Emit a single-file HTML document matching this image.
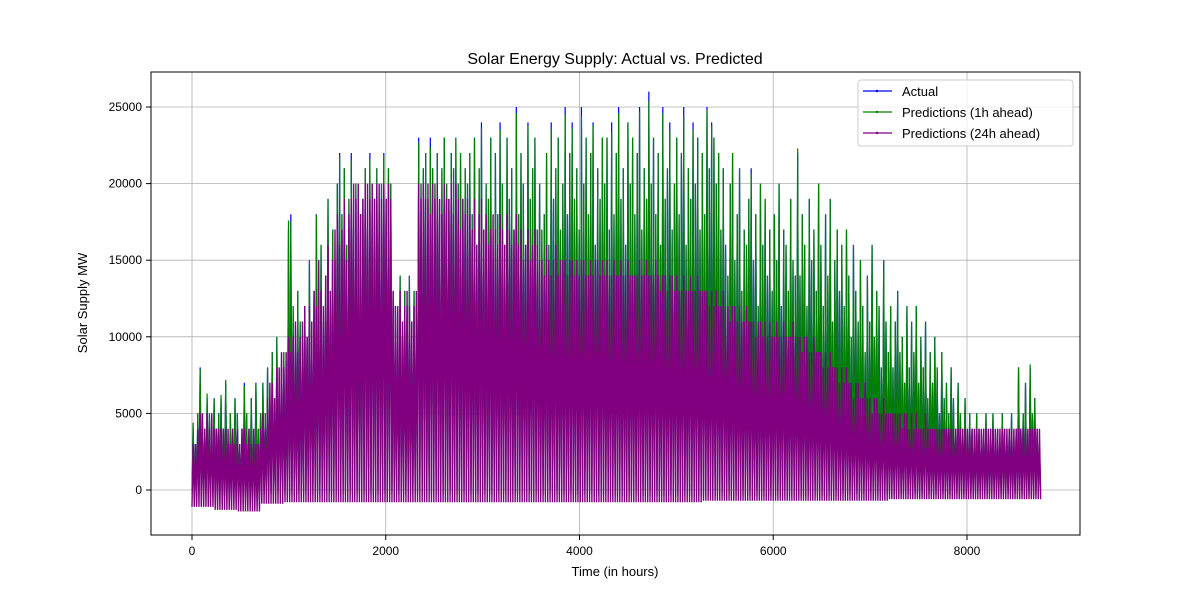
<!DOCTYPE html>
<html><head><meta charset="utf-8"><style>
body{margin:0;background:#fff;}
svg{display:block;font-family:"Liberation Sans","DejaVu Sans",sans-serif;}
</style></head><body>
<svg id="chart" width="1200" height="600" viewBox="0 0 1200 600">
<rect x="0" y="0" width="1200" height="600" fill="#fff"/>
<g id="grid"></g>
<g id="plot"></g>
<rect x="151" y="72" width="929" height="463" fill="none" stroke="#000" stroke-width="1"/>
<g id="ticks"></g>
<text x="615" y="64" text-anchor="middle" font-size="16">Solar Energy Supply: Actual vs. Predicted</text>
<text x="615" y="576" text-anchor="middle" font-size="13">Time (in hours)</text>
<text x="0" y="0" transform="translate(87,303) rotate(-90)" text-anchor="middle" font-size="13">Solar Supply MW</text>
<g>
<rect x="858" y="80" width="215" height="66" rx="3" fill="#fff" fill-opacity="0.8" stroke="#ccc"/>
<g><line x1="863" y1="91" x2="892" y2="91" stroke="blue" stroke-width="1.2"/><circle cx="877" cy="91" r="1.2" fill="blue"/><text x="902" y="96" font-size="13">Actual</text></g>
<g><line x1="863" y1="112" x2="892" y2="112" stroke="green" stroke-width="1.2"/><circle cx="877" cy="112" r="1.2" fill="green"/><text x="902" y="117" font-size="13">Predictions (1h ahead)</text></g>
<g><line x1="863" y1="133" x2="892" y2="133" stroke="purple" stroke-width="1.2"/><circle cx="877" cy="133" r="1.2" fill="purple"/><text x="902" y="138" font-size="13">Predictions (24h ahead)</text></g>
</g>
</svg>
<script>
// daily peaks in thousands of MW (one value per day)
const actualPeaks=[4,3,5,8,3,4,6,5,3,6, 4,5,6,4,7,3,5,4,6,5, 3,4,7,5,4,6,3,7,4,5, 7,5,8,6,9,4,10,7,8,9, 6,17,18,12,9,13,11,8,12,10, 15,10,13,18,12,16,11,14,19,13, 17,15,20,22,18,21,16,19,22,17, 20,15,18,19,21,17,22,20,19,21, 18,20,22,19,21,20,13,12,11,14, 10,13,12,14,11,13,12,23,20,21, 22,19,23,21,20,22,18,21,23,20, 19,22,21,23,20,22,19,21,20,22, 18,23,16,21,24,17,20,19,23,15, 22,18,24,20,16,23,19,21,17,25, 18,22,20,16,24,19,21,23,17,20, 17,18,22,16,24,19,21,23,17,20, 25,18,22,24,19,21,17,25,20,23, 18,22,24,16,21,19,23,20,23,17, 24,18,22,25,19,21,16,24,20,23, 18,22,25,17,21,19,26,20,23,18, 22,16,25,19,21,24,17,20,23,18, 22,25,16,21,19,24,20,23,17,22, 18,25,21,24,23,20,22,17,21,16, 14,20,22,15,18,21,13,17,16,19, 21,15,18,12,20,16,19,14,17,13, 18,15,20,12,17,16,13,19,15,14, 22,14,18,16,12,19,15,17,13,20, 16,12,18,14,19,11,15,17,13,16, 12,17,14,10,16,13,11,15,12,9, 14,11,16,10,13,12,8,15,11,9, 12,8,11,13,9,10,7,12,8,11, 9,12,7,10,8,11,6,9,7,10, 8,5,9,6,7,5,8,6,4,7, 5,4,6,3,5,4,3,5,4,3, 4,5,3,4,5,3,4,3,5,4, 3,4,5,3,4,8,4,5,7,3, 8,5,6,4,3];
const pred1hPeaks=[4.4,3,5,7.9,3,4,6.3,5,3,6, 4,5,6.2,4,7.2,3,5,4,6,5, 3,4,6.8,5,4,6,3,6.9,4,5, 7,5,8,6,9,4,10,7,8,9, 6,17.6,17.5,12,9,13,11,8,12,10, 15,10,13,18,12,16,11,14,19,13, 17,15,20,21.8,18,21,16,19,21.5,17, 20,15,18,19,21,17,21.6,20,19,21, 18,20,21.8,19,21,20,13,12,11,14, 10,13,12,14,11,13,12,22.7,20,21, 22,19,22.4,21,20,22,18,21,23,20, 19,22,21,23,20,22,19,21,20,22, 18,23,16,21,23.6,17,20,19,23,15, 22,18,23.5,20,16,23,19,21,17,24.6, 18,22,20,16,23.8,19,21,23,17,20, 17,18,22,16,23.6,19,21,23,17,20, 24.5,18,22,23.6,19,21,17,24.4,20,23, 18,22,23.8,16,21,19,23,20,23,17, 23.4,18,22,24.6,19,21,16,24,20,23, 18,22,24.7,17,21,19,25.4,20,23,18, 22,16,24.6,19,21,23.5,17,20,23,18, 22,24.4,16,21,19,23.5,20,23,17,22, 18,24.8,21,23.8,23,20,22,17,21,16, 14,20,22,15,18,21,13,17,16,19, 20.6,15,18,12,20,16,19,14,17,13, 18,15,20,12,17,16,13,19,15,14, 22.3,14,18,16,12,19,15,17,13,20, 16,12,18,14,19,11,15,17,13,16, 12,17,14,10,16,13,11,15,12,9, 14,11,16,10,13,12,8,15,11,9, 12,8,11,13,9,10,7,12,8,11, 9,12,7,10,8,11,6,9,7,10, 8,5,9,6,7,5,8,6,4,7, 5,4,6,3,5,4,3,5,4,3, 4,5,3,4,5,3,4,3,5,4, 3,4,5,3,4,8,4,5,7,3, 8.2,5,6,4,3];
const pred24hPeaks=[3,3,4,5,5,4,5,4,5,4, 4,4,4,4,4,4,3,4,3,4, 3,4,4,3,4,3,4,3,3,4, 5,4,6,7,7,6,8,8,9,8, 9,10,9,10,11,9,10,11,12,10, 12,11,13,12,15,13,12,14,16,13, 15,17,18,16,17,19,15,18,19,20, 19,20,18,19,20,20,19,20,19,20, 20,19,20,19,20,19,13,12,12,13, 11,12,13,12,11,12,13,20,19,20, 19,20,18,20,19,20,19,18,20,19, 19,20,18,20,19,17,19,18,19,18, 17,19,16,18,19,17,18,16,17,18, 17,16,18,17,16,18,17,16,17,18, 16,17,15,16,17,15,16,17,16,15, 15,14,16,15,14,15,16,14,15,15, 15,14,15,15,14,15,14,15,15,14, 14,15,14,15,15,14,15,14,15,14, 14,15,14,14,15,14,14,15,14,14, 14,14,15,14,14,15,14,14,14,15, 14,13,14,14,13,14,14,13,14,13, 13,14,13,13,14,13,13,14,13,13, 13,13,12,13,12,13,12,12,13,12, 12,11,12,12,11,12,11,11,12,11, 11,11,10,11,11,10,11,10,11,10, 10,11,10,10,11,10,10,10,11,10, 10,10,9,10,10,9,9,10,9,9, 9,8,9,8,9,8,8,8,7,8, 7,8,7,7,6,7,7,6,6,7, 6,6,5,6,6,5,5,6,5,5, 5,5,5,5,5,4,5,5,4,5, 4,5,4,4,4,5,4,4,4,4, 4,4,4,4,4,4,4,4,4,4, 4,4,4,4,4,4,4,4,4,4, 4,4,4,4,4,4,4,4,4,4, 4,4,4,4,4,4,4,4,4,4, 4,4,4,4,4];
// nightly lows per 240-hour block, thousands of MW
const actualLows=[0,0,0,0,0,0,0,0,0,0,0,0,0,0,0,0,0,0,0,0,0,0,0,0,0,0,0,0,0,0,0,0,0,0,0,0,0];
const pred1hLows=[-0.3,-0.3,-0.3,-0.3,-0.3,-0.3,-0.3,-0.3,-0.3,-0.3,-0.3,-0.3,-0.3,-0.3,-0.3,-0.3,-0.3,-0.3,-0.4,-0.4,-0.4,-0.4,-0.4,-0.4,-0.4,-0.4,-0.4,-0.4,-0.3,-0.3,-0.3,-0.3,-0.3,-0.3,-0.3,-0.3,-0.3];
const pred24hLows=[-1.1,-1.3,-1.4,-0.9,-0.8,-0.8,-0.8,-0.8,-0.8,-0.8,-0.8,-0.8,-0.8,-0.8,-0.8,-0.8,-0.8,-0.8,-0.8,-0.8,-0.8,-0.8,-0.7,-0.7,-0.7,-0.7,-0.7,-0.7,-0.7,-0.7,-0.6,-0.6,-0.6,-0.6,-0.6,-0.6,-0.6];
const xTicks=[0,2000,4000,6000,8000];
const yTicks=[0,5000,10000,15000,20000,25000];

const NS='http://www.w3.org/2000/svg';
function xs(h){return 192+h*0.096875;}
function ys(v){return 490-v*0.01532;}
const grid=document.getElementById('grid'),ticks=document.getElementById('ticks'),plot=document.getElementById('plot');
xTicks.forEach(t=>{
  const l=document.createElementNS(NS,'line');
  l.setAttribute('x1',xs(t));l.setAttribute('x2',xs(t));l.setAttribute('y1',72);l.setAttribute('y2',535);
  l.setAttribute('stroke','#b0b0b0');l.setAttribute('stroke-width','0.8');
  
  
  grid.appendChild(l);
  const tk=document.createElementNS(NS,'line');
  tk.setAttribute('x1',xs(t));tk.setAttribute('x2',xs(t));tk.setAttribute('y1',535);tk.setAttribute('y2',540);tk.setAttribute('stroke','#000');
  
  
  ticks.appendChild(tk);
  const tx=document.createElementNS(NS,'text');
  tx.setAttribute('x',xs(t));tx.setAttribute('y',555);tx.setAttribute('text-anchor','middle');tx.setAttribute('font-size','12');
  tx.textContent=t;
  
  
  ticks.appendChild(tx);
});
yTicks.forEach(t=>{
  const l=document.createElementNS(NS,'line');
  l.setAttribute('x1',151);l.setAttribute('x2',1080);l.setAttribute('y1',ys(t));l.setAttribute('y2',ys(t));
  l.setAttribute('stroke','#b0b0b0');l.setAttribute('stroke-width','0.8');
  
  
  grid.appendChild(l);
  const tk=document.createElementNS(NS,'line');
  tk.setAttribute('x1',146);tk.setAttribute('x2',151);tk.setAttribute('y1',ys(t));tk.setAttribute('y2',ys(t));tk.setAttribute('stroke','#000');
  
  
  ticks.appendChild(tk);
  const tx=document.createElementNS(NS,'text');
  tx.setAttribute('x',142);tx.setAttribute('y',ys(t)+4);tx.setAttribute('text-anchor','end');tx.setAttribute('font-size','12');
  tx.textContent=t;
  
  
  ticks.appendChild(tx);
});
function series(peaks,lows,color,name,w){
  let d='';
  peaks.forEach((p,i)=>{
    const lo=lows[Math.floor(i/10)]*1000;
    const h=i*24;
    d+=(i===0?'M':'L')+xs(h).toFixed(2)+','+ys(lo).toFixed(2)+'L'+xs(h+12).toFixed(2)+','+ys(p*1000).toFixed(2);
  });
  const last=(peaks.length)*24;
  d+='L'+xs(last).toFixed(2)+','+ys(lows[lows.length-1]*1000).toFixed(2);
  const path=document.createElementNS(NS,'path');
  path.setAttribute('d',d);path.setAttribute('fill','none');path.setAttribute('stroke',color);path.setAttribute('stroke-width',w);
  
  
  plot.appendChild(path);
}
series(actualPeaks,actualLows,'blue','actual-series','1.2');
series(pred1hPeaks,pred1hLows,'green','pred-1h-series','1.2');
series(pred24hPeaks,pred24hLows,'purple','pred-24h-series','1.4');
</script>
</body></html>
